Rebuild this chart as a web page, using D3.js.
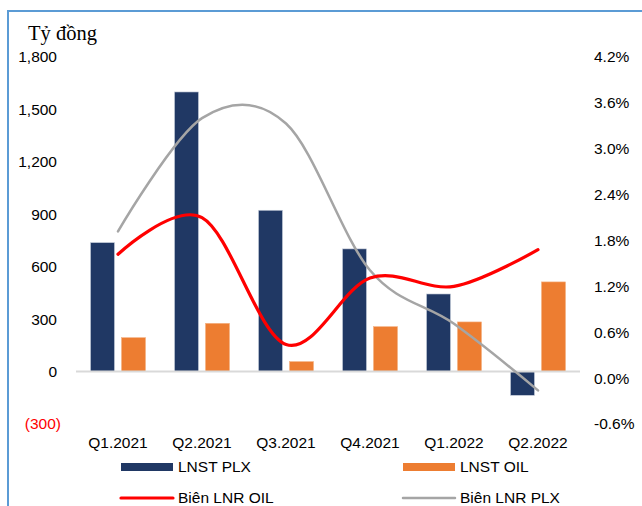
<!DOCTYPE html>
<meta charset="utf-8">
<style>
  body { margin: 0; background: #fff; }
  text { font-family: "Liberation Sans", Arial, sans-serif; }
</style>
<body>
<div id="chart"></div>
<script src="https://d3js.org/d3.v7.min.js"></script>
<script>

// data
var quarters = ["Q1.2021", "Q2.2021", "Q3.2021", "Q4.2021", "Q1.2022", "Q2.2022"];
var lnstPLX = [738, 1600, 923, 702, 444, -136];
var lnstOIL = [194, 276, 57, 257, 284, 513];
var bienOIL = [1.62, 2.10, 0.44, 1.31, 1.20, 1.68];
var bienPLX = [1.92, 3.40, 3.33, 1.41, 0.71, -0.16];
var leftTicks = [-300, 0, 300, 600, 900, 1200, 1500, 1800];
var rightTicks = [-0.6, 0, 0.6, 1.2, 1.8, 2.4, 3.0, 3.6, 4.2];

var width = 642, height = 506;

var svg = d3.select("#chart").append("svg")
    .attr("width", width)
    .attr("height", height);

// frame (only top and left edges are visible)
svg.append("path")
    .attr("d", "M8,506 L8,11 L642,11")
    .attr("fill", "none")
    .attr("stroke", "#5b9bd5")
    .attr("stroke-width", 2);

// scales
var x = d3.scaleBand()
    .domain(quarters)
    .range([76, 580]);

var yL = d3.scaleLinear()
    .domain([-300, 1800])
    .range([424, 57]);

var yR = d3.scaleLinear()
    .domain([-0.6, 4.2])
    .range([424, 57]);

var fmtL = function(d) {
  return d < 0 ? "(" + d3.format(",")(-d) + ")" : d3.format(",")(d);
};

// left ticks
svg.append("g").selectAll("text")
    .data(leftTicks)
  .enter().append("text")
    .attr("x", function(d) { return d < 0 ? 61 : 57; })
    .attr("y", function(d) { return yL(d); })
    .attr("dy", "0.35em")
    .attr("text-anchor", "end")
    .attr("font-size", "15.5px")
    .attr("fill", function(d) { return d < 0 ? "#ff0000" : "#000"; })
    .text(fmtL);

// right ticks
svg.append("g").selectAll("text")
    .data(rightTicks)
  .enter().append("text")
    .attr("x", 594)
    .attr("y", function(d) { return yR(d); })
    .attr("dy", "0.35em")
    .attr("font-size", "15.5px")
    .attr("fill", "#000")
    .text(function(d) { return d.toFixed(1) + "%"; });

// unit title
svg.append("text")
    .attr("x", 28)
    .attr("y", 40)
    .style("font-family", "'Liberation Serif', 'Times New Roman', serif")
    .attr("font-size", "20.5px")
    .text("Tỷ đồng");

// bars
var bw = 24;
svg.append("g").selectAll("rect")
    .data(lnstPLX)
  .enter().append("rect")
    .attr("x", function(d, i) { return x(quarters[i]) + x.bandwidth() / 2 - 27.5; })
    .attr("y", function(d) { return yL(Math.max(0, d)); })
    .attr("width", bw)
    .attr("height", function(d) { return Math.abs(yL(d) - yL(0)); })
    .attr("fill", "#203864")
    .attr("stroke", "#c9d0dc")
    .attr("stroke-width", 0.6);

svg.append("g").selectAll("rect")
    .data(lnstOIL)
  .enter().append("rect")
    .attr("x", function(d, i) { return x(quarters[i]) + x.bandwidth() / 2 + 3.5; })
    .attr("y", function(d) { return yL(Math.max(0, d)); })
    .attr("width", bw)
    .attr("height", function(d) { return Math.abs(yL(d) - yL(0)); })
    .attr("fill", "#ed7d31")
    .attr("stroke", "#f4b183")
    .attr("stroke-width", 0.6);

// zero line
svg.append("line")
    .attr("x1", 76).attr("x2", 580)
    .attr("y1", yL(0)).attr("y2", yL(0))
    .attr("stroke", "#d9d9d9")
    .attr("stroke-width", 2);

// category labels
svg.append("g").selectAll("text")
    .data(quarters)
  .enter().append("text")
    .attr("x", function(d) { return x(d) + x.bandwidth() / 2; })
    .attr("y", 443)
    .attr("dy", "0.35em")
    .attr("text-anchor", "middle")
    .attr("font-size", "15.5px")
    .text(function(d) { return d; });

// smoothed lines
var line = d3.line()
    .x(function(d, i) { return x(quarters[i]) + x.bandwidth() / 2; })
    .y(function(d) { return yR(d); })
    .curve(d3.curveCardinal.tension(0));

svg.append("path")
    .datum(bienPLX)
    .attr("d", line)
    .attr("fill", "none")
    .attr("stroke", "#a5a5a5")
    .attr("stroke-width", 2.5)
    .attr("stroke-linecap", "round");

svg.append("path")
    .datum(bienOIL)
    .attr("d", line)
    .attr("fill", "none")
    .attr("stroke", "#ff0000")
    .attr("stroke-width", 3.2)
    .attr("stroke-linecap", "round");

// legend
var legend = [
  {name: "LNST PLX", color: "#203864", type: "rect", x: 121, y: 467},
  {name: "LNST OIL", color: "#ed7d31", type: "rect", x: 403, y: 467},
  {name: "Biên LNR OIL", color: "#ff0000", type: "line", x: 121, y: 498},
  {name: "Biên LNR PLX", color: "#a5a5a5", type: "line", x: 403, y: 498}
];

var lg = svg.append("g").selectAll("g")
    .data(legend)
  .enter().append("g")
    .attr("transform", function(d) { return "translate(" + d.x + "," + d.y + ")"; });

lg.filter(function(d) { return d.type == "rect"; })
  .append("rect")
    .attr("x", 0).attr("y", -4)
    .attr("width", 52).attr("height", 8)
    .attr("fill", function(d) { return d.color; });

lg.filter(function(d) { return d.type == "line"; })
  .append("line")
    .attr("x1", 0).attr("x2", 52)
    .attr("y1", 0).attr("y2", 0)
    .attr("stroke", function(d) { return d.color; })
    .attr("stroke-width", function(d) { return d.color == "#ff0000" ? 3.2 : 2.5; })
    .attr("stroke-linecap", "round");

lg.append("text")
    .attr("x", 57)
    .attr("dy", "0.35em")
    .attr("font-size", "15.5px")
    .text(function(d) { return d.name; });

</script>
</body>
